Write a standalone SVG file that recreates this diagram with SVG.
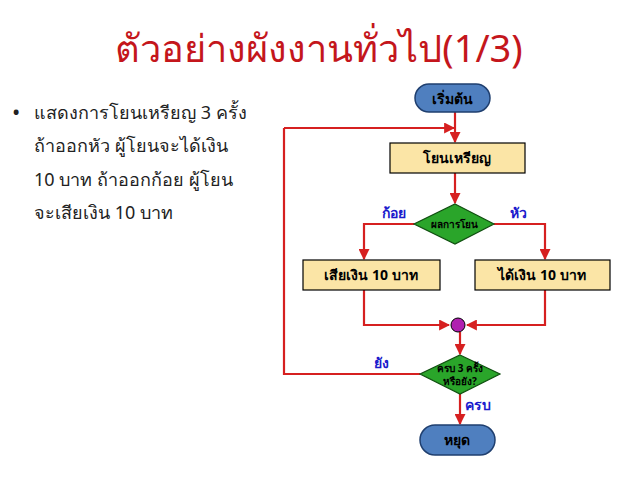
<svg xmlns="http://www.w3.org/2000/svg" width="638" height="479" viewBox="0 0 638 479">
<style>
.t{font-family:"Noto Sans","DejaVu Sans",sans-serif}
.c{fill:none;stroke:#d62020;stroke-width:2.2}
.box{fill:#fbe5a6;stroke:#000;stroke-width:1.2}
.pill{fill:#4f7fbf;stroke:#1f3f6f;stroke-width:1.5}
.dia{fill:#2aa52a;stroke:#0f4f0f;stroke-width:1.2}
.bl{font-weight:bold;font-size:14px;fill:#000;text-anchor:middle}
.lb{font-weight:bold;font-size:14px;fill:#1a1acc}
.body{font-size:18px;fill:#222}
</style>
<defs><marker id="a" viewBox="0 0 10 10" refX="9" refY="5" markerWidth="5" markerHeight="5" orient="auto"><path d="M0,0L10,5L0,10z" fill="#d62020"/></marker></defs>
<rect width="638" height="479" fill="#fff"/>
<text class="t" x="319" y="62" font-size="38" fill="#c4161c" text-anchor="middle">ตัวอย่างผังงานทั่วไป(1/3)</text>
<g class="t body">
<text x="12" y="120" font-size="22">•</text>
<text x="34" y="119">แสดงการโยนเหรียญ 3 ครั้ง</text>
<text x="34" y="152">ถ้าออกหัว ผู้โยนจะได้เงิน</text>
<text x="34" y="186">10 บาท ถ้าออกก้อย ผู้โยน</text>
<text x="34" y="219">จะเสียเงิน 10 บาท</text>
</g>
<g id="connectors">
<path class="c" d="M455,112V142" marker-end="url(#a)"/>
<path class="c" d="M284,128H454" marker-end="url(#a)"/>
<path class="c" d="M455,173V203" marker-end="url(#a)"/>
<path class="c" d="M414,224H364V259" marker-end="url(#a)"/>
<path class="c" d="M494,224H545V259" marker-end="url(#a)"/>
<path class="c" d="M364,290V325H449" marker-end="url(#a)"/>
<path class="c" d="M545,290V325H467" marker-end="url(#a)"/>
<path class="c" d="M460,332V354" marker-end="url(#a)"/>
<path class="c" d="M420,374H284V128"/>
<path class="c" d="M460,394V424" marker-end="url(#a)"/>
</g>
<g id="start"><rect class="pill" x="415" y="84" width="75" height="28" rx="14"/><text class="t bl" x="452" y="104">เริ่มต้น</text></g>
<g id="toss"><rect class="box" x="390" y="143" width="135" height="30"/><text class="t bl" x="457" y="163">โยนเหรียญ</text></g>
<g id="result"><polygon class="dia" points="455,204 494,224 455,244 414,224"/><text class="t" x="454" y="228" font-size="10" font-weight="bold" text-anchor="middle">ผลการโยน</text></g>
<g id="lose"><rect class="box" x="303" y="260" width="137" height="30"/><text class="t bl" x="371" y="280">เสียเงิน 10 บาท</text></g>
<g id="win"><rect class="box" x="475" y="260" width="135" height="30"/><text class="t bl" x="542" y="280">ได้เงิน 10 บาท</text></g>
<g id="join"><circle cx="458" cy="325" r="7" fill="#b020b0" stroke="#000"/></g>
<g id="check"><polygon class="dia" points="460,355 500,374 460,394 420,374"/><text class="t" x="460" y="372" font-size="10" font-weight="bold" text-anchor="middle">ครบ 3 ครั้ง</text><text class="t" x="460" y="385" font-size="10" font-weight="bold" text-anchor="middle">หรือยัง?</text></g>
<g id="stop"><rect class="pill" x="420" y="425" width="75" height="30" rx="15"/><text class="t bl" x="457" y="445">หยุด</text></g>
<g class="t lb">
<text x="382" y="218">ก้อย</text>
<text x="510" y="218">หัว</text>
<text x="374" y="368">ยัง</text>
<text x="465" y="410">ครบ</text>
</g>
</svg>
